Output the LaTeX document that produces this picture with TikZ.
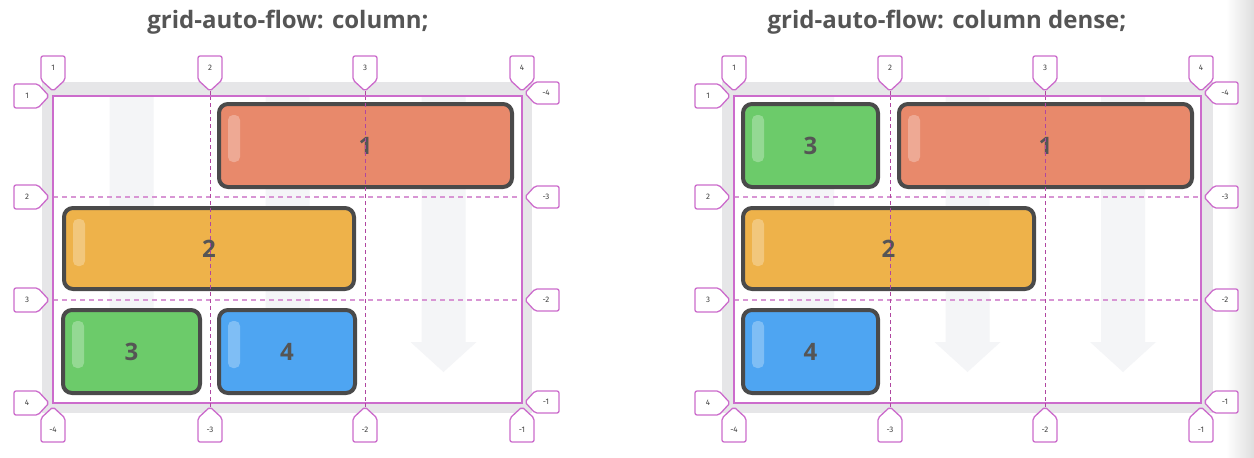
\documentclass[tikz,border=0pt]{standalone}
\usepackage{fontspec}
\setmainfont{Fira Sans}
\newfontfamily\titlefont{Open Sans}
\usetikzlibrary{calc}
\definecolor{magline}{RGB}{204,108,204}
\definecolor{hdash}{RGB}{216,150,212}
\definecolor{vdash}{RGB}{176,70,160}
\definecolor{framegray}{RGB}{230,230,232}
\definecolor{arrowgray}{RGB}{244,245,247}
\definecolor{boxedge}{RGB}{74,74,74}
\definecolor{txtgray}{RGB}{85,85,85}
\definecolor{cred}{RGB}{232,137,107}
\definecolor{corange}{RGB}{238,178,74}
\definecolor{cgreen}{RGB}{108,203,106}
\definecolor{cblue}{RGB}{78,165,242}
\tikzset{
  labshape/.style={draw=magline, line width=1.3pt, fill=white, rounded corners=2pt, line join=round},
  labtext/.style={font=\fontsize{8}{9}\selectfont, text=black!75, inner sep=0pt},
  gridbox/.style={draw=boxedge, line width=4pt, rounded corners=9pt, inner sep=0pt,
     font=\titlefont\fontsize{24}{25}\selectfont\bfseries, text=txtgray},
  hgrid/.style={draw=hdash, line width=1.2pt, dash pattern=on 5pt off 4pt},
  vgrid/.style={draw=vdash, line width=1pt, dash pattern=on 4pt off 3pt},
  outergrid/.style={draw=magline, line width=1.8pt},
  flowarrow/.style={fill=arrowgray},
  titletext/.style={font=\titlefont\fontsize{24}{26}\selectfont\bfseries, text=txtgray},
  shine/.style={fill=white, fill opacity=0.28, rounded corners=5pt}
}
% label pointing down (tip at #2,#3)
\newcommand{\labD}[4]{%
  \coordinate (#1tip) at (#2,#3);
  \draw[labshape] ({#2-12},{#3-35}) -- ({#2+12},{#3-35}) -- ({#2+12},{#3-11}) -- (#2,#3) -- ({#2-12},{#3-11}) -- cycle;
  \node[labtext] (#1) at (#2,{#3-23}) {#4};}
% label pointing up
\newcommand{\labU}[4]{%
  \coordinate (#1tip) at (#2,#3);
  \draw[labshape] ({#2-12},{#3+35}) -- ({#2+12},{#3+35}) -- ({#2+12},{#3+11}) -- (#2,#3) -- ({#2-12},{#3+11}) -- cycle;
  \node[labtext] (#1) at (#2,{#3+23}) {#4};}
% label pointing right (on the left side)
\newcommand{\labR}[4]{%
  \coordinate (#1tip) at (#2,#3);
  \draw[labshape] ({#2-35},{#3-12}) -- ({#2-11},{#3-12}) -- (#2,#3) -- ({#2-11},{#3+12}) -- ({#2-35},{#3+12}) -- cycle;
  \node[labtext] (#1) at ({#2-22},#3) {#4};}
% label pointing left (on the right side)
\newcommand{\labL}[4]{%
  \coordinate (#1tip) at (#2,#3);
  \draw[labshape] ({#2+34},{#3-11}) -- ({#2+10},{#3-11}) -- (#2,#3) -- ({#2+10},{#3+11}) -- ({#2+34},{#3+11}) -- cycle;
  \node[labtext] (#1) at ({#2+21},#3) {#4};}
% item box: name, x1, y1, x2, y2, colour, text
\newcommand{\gbox}[7]{%
  \pgfmathsetmacro\gbw{#4-#2-4}\pgfmathsetmacro\gbh{#5-#3-4}%
  \node[gridbox, fill=#6, minimum width=\gbw pt, minimum height=\gbh pt] (#1) at ({(#2+#4)/2},{(#3+#5)/2}) {#7};
  \fill[shine] ({#2+11},{#3+13}) rectangle ({#2+23},{#3+60});}
% flow arrow in a column centred at #1
\newcommand{\flowarr}[1]{%
  \fill[flowarrow] ({#1-22},97) -- ({#1-22},342) -- ({#1-33},342) -- (#1,372) -- ({#1+33},342) -- ({#1+22},342) -- ({#1+22},97) -- cycle;}
\begin{document}
\begin{tikzpicture}[x=1pt, y=-1pt]
\useasboundingbox (0,0) rectangle (1254,458);
\fill[white] (0,0) rectangle (1254,458);
\shade[left color=white, right color=black!13] (1226,0) rectangle (1254,458);
% titles
\node[titletext] (title1) at (288,22) {grid-auto-flow: column;};
\node[titletext] (title2) at (947,22) {grid-auto-flow: column dense;};
% ---------- left panel ----------
\fill[framegray] (42,82) rectangle (532,413);
\fill[white] (53,96) rectangle (522,403);
\flowarr{131.5}\flowarr{287.5}\flowarr{443.5}
\gbox{La}{217}{102}{514}{189}{cred}{1}
\gbox{Lb}{62}{206}{356}{291}{corange}{2}
\gbox{Lc}{61}{308}{202}{395}{cgreen}{3}
\gbox{Ld}{217}{308}{357}{395}{cblue}{4}
\coordinate (LTLa) at (53,96);
\coordinate (LBRa) at (522,403);
\coordinate (LT2) at (210,96); \coordinate (LB2) at (210,403);
\coordinate (LT3) at (365,96); \coordinate (LB3) at (365,403);
\coordinate (LL2) at (53,197); \coordinate (LR2) at (522,197);
\coordinate (LL3) at (53,300); \coordinate (LR3) at (522,300);
\draw[hgrid] (LL2) -- (LR2);
\draw[hgrid] (LL3) -- (LR3);
\draw[vgrid] (LT2) -- (LB2);
\draw[vgrid] (LT3) -- (LB3);
\draw[outergrid] (LTLa) rectangle (LBRa);
\labD{LtA}{53}{91}{1}\labD{LtB}{210}{91}{2}\labD{LtC}{365}{91}{3}\labD{LtD}{522}{91}{4}
\labU{LbA}{53}{407}{-4}\labU{LbB}{210}{407}{-3}\labU{LbC}{365}{407}{-2}\labU{LbD}{522}{407}{-1}
\labR{LlA}{49}{96}{1}\labR{LlB}{49}{197}{2}\labR{LlC}{49}{300}{3}\labR{LlD}{49}{403}{4}
\labL{LrA}{525}{93}{-4}\labL{LrB}{525}{197}{-3}\labL{LrC}{525}{300}{-2}\labL{LrD}{525}{402}{-1}
\draw[vgrid] (LtBtip) -- (LT2);
\draw[vgrid] (LB2) -- (LbBtip);
\draw[vgrid] (LtCtip) -- (LT3);
\draw[vgrid] (LB3) -- (LbCtip);
% ---------- right panel ----------
\fill[framegray] (722,82) rectangle (1213,413);
\fill[white] (734,96) rectangle (1201,403);
\flowarr{812}\flowarr{967.5}\flowarr{1123}
\gbox{Rc}{741}{102}{880}{189}{cgreen}{3}
\gbox{Ra}{897}{102}{1194}{189}{cred}{1}
\gbox{Rb}{741}{206}{1036}{291}{corange}{2}
\gbox{Rd}{741}{308}{880}{395}{cblue}{4}
\coordinate (RTLa) at (734,96);
\coordinate (RBRa) at (1201,403);
\coordinate (RT2) at (890,96); \coordinate (RB2) at (890,403);
\coordinate (RT3) at (1045,96); \coordinate (RB3) at (1045,403);
\coordinate (RL2) at (734,197); \coordinate (RR2) at (1201,197);
\coordinate (RL3) at (734,300); \coordinate (RR3) at (1201,300);
\draw[hgrid] (RL2) -- (RR2);
\draw[hgrid] (RL3) -- (RR3);
\draw[vgrid] (RT2) -- (RB2);
\draw[vgrid] (RT3) -- (RB3);
\draw[outergrid] (RTLa) rectangle (RBRa);
\labD{RtA}{734}{91}{1}\labD{RtB}{890}{91}{2}\labD{RtC}{1045}{91}{3}\labD{RtD}{1201}{91}{4}
\labU{RbA}{734}{407}{-4}\labU{RbB}{890}{407}{-3}\labU{RbC}{1045}{407}{-2}\labU{RbD}{1201}{407}{-1}
\labR{RlA}{730}{96}{1}\labR{RlB}{730}{197}{2}\labR{RlC}{730}{300}{3}\labR{RlD}{730}{403}{4}
\labL{RrA}{1204}{93}{-4}\labL{RrB}{1204}{197}{-3}\labL{RrC}{1204}{300}{-2}\labL{RrD}{1204}{402}{-1}
\draw[vgrid] (RtBtip) -- (RT2);
\draw[vgrid] (RB2) -- (RbBtip);
\draw[vgrid] (RtCtip) -- (RT3);
\draw[vgrid] (RB3) -- (RbCtip);
\end{tikzpicture}
\end{document}
